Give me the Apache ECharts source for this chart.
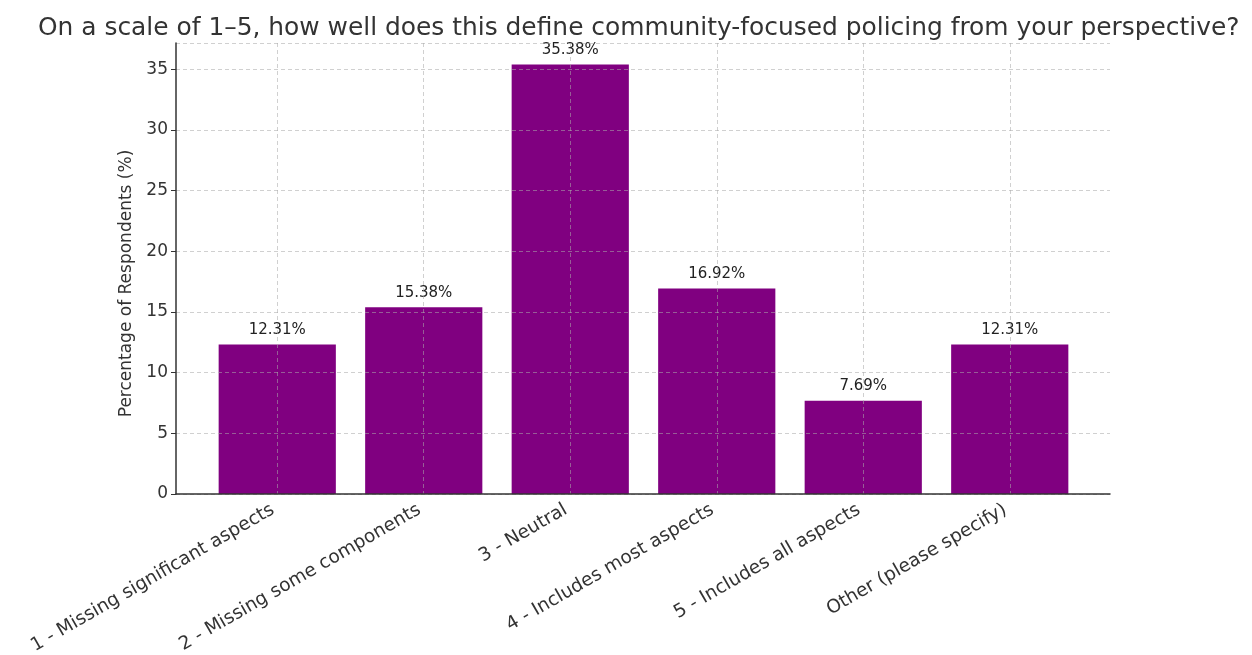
<!DOCTYPE html>
<html>
<head>
<meta charset="utf-8">
<script src="https://cdn.jsdelivr.net/npm/echarts@6/dist/echarts.min.js"></script>
<style>html,body{margin:0;padding:0;background:#fff;}#c{width:1252px;height:655px;}</style>
</head>
<body>
<div id="c"></div>
<script>
const titleText = "On a scale of 1–5, how well does this define community-focused policing from your perspective?";
const categories = ["1 - Missing significant aspects", "2 - Missing some components", "3 - Neutral", "4 - Includes most aspects", "5 - Includes all aspects", "Other (please specify)"];
const values = [12.31, 15.38, 35.38, 16.92, 7.69, 12.31];
const yName = "Percentage of Respondents (%)";

const FONT = "DejaVu Sans";
const YMAX = 37.15;
const chart = echarts.init(document.getElementById('c'));
const gridLine = {show: true, lineStyle: {color: 'rgba(170,170,170,0.55)', type: [4, 3], width: 1}};
chart.setOption({
  animation: false,
  textStyle: {fontFamily: FONT},
  title: {text: titleText, left: 33, top: 11, textStyle: {fontFamily: FONT, fontSize: 24.9, fontWeight: 'normal', color: '#333'}},
  grid: [
    {left: 176, right: 142, top: 43, bottom: 161, outerBoundsMode: 'none', containLabel: false},
    {left: 204, width: 879, top: 43, bottom: 161, outerBoundsMode: 'none', containLabel: false},
    {left: 277, width: 733, top: 43, bottom: 161, outerBoundsMode: 'none', containLabel: false}
  ],
  xAxis: [
    {gridIndex: 0, type: 'value', min: 0, max: 1, z: 3, axisLine: {show: true, lineStyle: {color: '#333', width: 1.5}}, axisTick: {show: false}, axisLabel: {show: false}, splitLine: {show: false}},
    {gridIndex: 1, type: 'category', data: categories, axisLine: {show: false}, axisTick: {show: false},
      axisLabel: {rotate: 30, interval: 0, fontSize: 18.5, color: '#333', fontFamily: FONT, margin: 12, padding: [0, 5, 0, 0]}, splitLine: {show: false}},
    {gridIndex: 2, type: 'value', min: 0, max: 5, interval: 1, z: 3, axisLine: {show: false}, axisTick: {show: false}, axisLabel: {show: false}, splitLine: gridLine}
  ],
  yAxis: [
    {gridIndex: 0, type: 'value', min: 0, max: YMAX, interval: 5, z: 3,
      name: yName, nameLocation: 'middle', nameGap: 38, nameTextStyle: {fontSize: 17, color: '#333', fontFamily: FONT, padding: [0, 30, 0, 0]},
      axisLine: {show: true, lineStyle: {color: '#333', width: 1.5}}, axisTick: {show: true, length: 5, lineStyle: {color: '#333'}},
      axisLabel: {fontSize: 17, color: '#333', fontFamily: FONT, margin: 8, showMaxLabel: false}, splitLine: gridLine},
    {gridIndex: 1, type: 'value', min: 0, max: YMAX, show: false, splitLine: {show: false}},
    {gridIndex: 2, type: 'value', min: 0, max: YMAX, show: false, splitLine: {show: false}}
  ],
  series: [{
    type: 'bar', xAxisIndex: 1, yAxisIndex: 1, data: values, barWidth: '80%',
    itemStyle: {color: '#800080'},
    label: {show: true, position: 'top', distance: 7, fontSize: 15, color: '#222', fontFamily: FONT, formatter: p => p.value.toFixed(2) + '%'}
  }]
});
</script>
</body>
</html>
